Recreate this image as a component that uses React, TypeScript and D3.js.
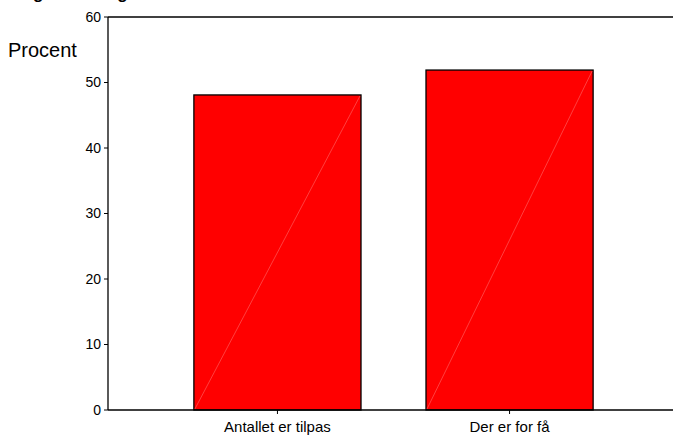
import React from "react";
import * as d3 from "d3";

const categories = ["Antallet er tilpas", "Der er for få"];
const values = [48.1, 51.9];
const yTicks = [0, 10, 20, 30, 40, 50, 60];
const yLabel = "Procent";
const title = "Boligforhold og antallet";

const W = 673;
const H = 436;
const left = 108;
const top = 17;
const bottom = 410;
const font = "'Liberation Sans', Arial, sans-serif";

export default function App() {
  const y = d3.scaleLinear().domain([0, 60]).range([bottom, top]);
  const x = d3
    .scaleBand<string>()
    .domain(categories)
    .range([left, 679])
    .paddingInner(0.28)
    .paddingOuter(0.37);

  return (
    <svg
      width={W}
      height={H}
      style={{ position: "absolute", left: 0, top: 0, background: "#fff" }}
      fontFamily={font}
    >
      <text x={1} y={-1} fontSize={17} fontWeight="bold" fill="#000">
        {title}
      </text>
      {/* bars */}
      {categories.map((c, i) => {
        const x0 = x(c)!;
        const bw = x.bandwidth();
        const yv = y(values[i]);
        return (
          <g key={c}>
            <rect x={x0} y={yv} width={bw} height={bottom - yv} fill="#ff0000" stroke="#000" strokeWidth={1.3} />
            <line x1={x0 + 1} y1={bottom - 1} x2={x0 + bw - 1} y2={yv + 1} stroke="#ff6a6a" strokeWidth={0.6} />
          </g>
        );
      })}
      {/* frame */}
      <line x1={left} y1={top} x2={W} y2={top} stroke="#000" strokeWidth={1.3} />
      <line x1={left} y1={top} x2={left} y2={bottom} stroke="#000" strokeWidth={1.3} />
      <line x1={left} y1={bottom} x2={W} y2={bottom} stroke="#000" strokeWidth={1.3} />
      {/* y ticks */}
      {yTicks.map((t) => (
        <g key={t}>
          <line x1={left - 4} x2={left} y1={y(t)} y2={y(t)} stroke="#000" strokeWidth={1} />
          <text x={left - 7} y={y(t)} dy="0.35em" textAnchor="end" fontSize={14} fill="#000">
            {t}
          </text>
        </g>
      ))}
      <text x={8} y={57} fontSize={20} fill="#000">
        {yLabel}
      </text>
      {/* x ticks */}
      {categories.map((c) => {
        const cx = x(c)! + x.bandwidth() / 2;
        return (
          <g key={c}>
            <line x1={cx} x2={cx} y1={bottom} y2={bottom + 4} stroke="#000" strokeWidth={1} />
            <text x={cx} y={432} textAnchor="middle" fontSize={15} fill="#000">
              {c}
            </text>
          </g>
        );
      })}
    </svg>
  );
}
